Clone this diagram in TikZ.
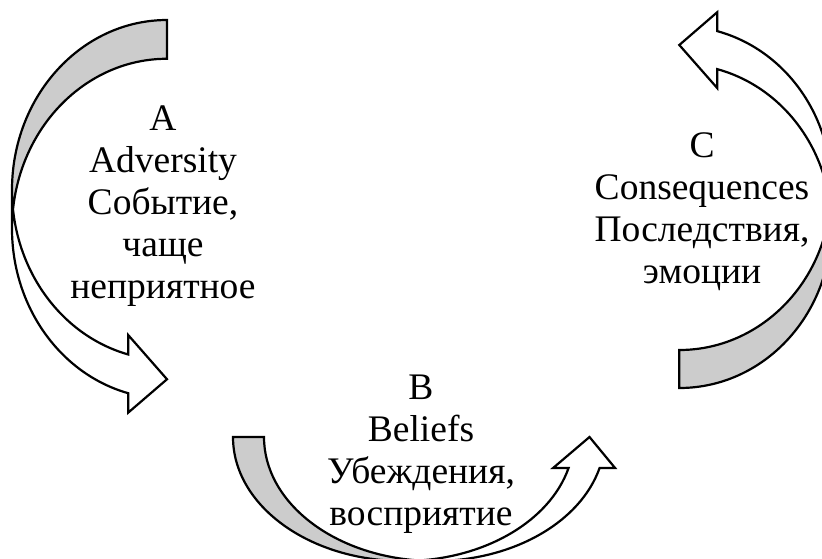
\documentclass[tikz,border=0pt]{standalone}
\usepackage{fontspec}
\setmainfont{Liberation Serif}
\definecolor{bandshade}{RGB}{204,204,204}
\tikzset{
  band line/.style={draw=black, line width=2.2pt, line join=miter},
  lbl/.style={font=\fontsize{37.5}{42}\selectfont, align=center, inner sep=0pt, anchor=base}
}
% curved arrow band in local coordinates (y pointing down): w h th aw ah
\newcommand\curvedband[5]{%
  \pgfmathsetmacro\cbW{#1}%
  \pgfmathsetmacro\cbH{#2}%
  \pgfmathsetmacro\cbTh{#3}%
  \pgfmathsetmacro\cbAw{#4}%
  \pgfmathsetmacro\cbAh{#5}%
  \pgfmathsetmacro\cbHR{\cbH/2-(\cbTh+\cbAw)/4}%
  \pgfmathsetmacro\cbYiii{\cbHR+\cbTh}%
  \pgfmathsetmacro\cbBeta{acos(\cbAh/\cbW)}%
  \pgfmathsetmacro\cbDy{\cbHR*sin(\cbBeta)}%
  \pgfmathsetmacro\cbYv{\cbHR+\cbDy}%
  \pgfmathsetmacro\cbYvii{\cbYiii+\cbDy}%
  \pgfmathsetmacro\cbDh{(\cbAw-\cbTh)/2}%
  \pgfmathsetmacro\cbYiv{\cbYv-\cbDh}%
  \pgfmathsetmacro\cbYviii{\cbYvii+\cbDh}%
  \pgfmathsetmacro\cbYvi{\cbH-\cbAw/2}%
  \pgfmathsetmacro\cbXi{\cbW-\cbAh}%
  \pgfmathsetmacro\cbDelta{asin(\cbTh/(2*\cbHR))}%
  \pgfmathsetmacro\cbEa{180-\cbBeta}%
  \pgfmathsetmacro\cbEb{180+\cbDelta}%
  \pgfmathsetmacro\cbEc{180-\cbDelta}%
  \fill[white] (0,\cbHR)
    arc[start angle=180,end angle=\cbEa,x radius=\cbW pt,y radius=\cbHR pt]
    -- (\cbXi,\cbYiv) -- (\cbW,\cbYvi) -- (\cbXi,\cbYviii) -- (\cbXi,\cbYvii)
    arc[start angle=\cbEa,end angle=180,x radius=\cbW pt,y radius=\cbHR pt] -- cycle;
  \fill[bandshade] (\cbW,\cbTh)
    arc[start angle=270,end angle=\cbEb,x radius=\cbW pt,y radius=\cbHR pt]
    arc[start angle=\cbEc,end angle=270,x radius=\cbW pt,y radius=\cbHR pt] -- cycle;
  \path[band line] (0,\cbHR)
    arc[start angle=180,end angle=\cbEa,x radius=\cbW pt,y radius=\cbHR pt]
    -- (\cbXi,\cbYiv) -- (\cbW,\cbYvi) -- (\cbXi,\cbYviii) -- (\cbXi,\cbYvii)
    arc[start angle=\cbEa,end angle=180,x radius=\cbW pt,y radius=\cbHR pt]
    -- (0,\cbHR)
    arc[start angle=180,end angle=270,x radius=\cbW pt,y radius=\cbHR pt]
    -- (\cbW,\cbTh)
    arc[start angle=270,end angle=\cbEb,x radius=\cbW pt,y radius=\cbHR pt];
}
\begin{document}
\begin{tikzpicture}[x=1pt,y=1pt]
  \useasboundingbox (0,0) rectangle (822,-558);
  \fill[white] (0,0) rectangle (822,-558);
  \begin{scope}
    \clip (0,0) rectangle (822,-558);
    % A: curved right arrow
    \begin{scope}[cm={1,0,0,-1,(12,-20)}]
      \curvedband{155}{398}{38.75}{77.5}{38.75}
    \end{scope}
    % B: curved up arrow
    \begin{scope}[cm={0,1,1,0,(233,-561)}]
      \curvedband{124}{387.5}{31}{62}{31}
    \end{scope}
    % C: curved left arrow (pointing up-left)
    \begin{scope}[cm={-1,0,0,1,(831.3,-388)}]
      \curvedband{152}{381}{38}{76}{38}
    \end{scope}
  \end{scope}
  \node[lbl] (txtA) at (163,-298.3) {A\\Adversity\\Событие,\\чаще\\неприятное};
  \node[lbl] (txtB) at (421,-525) {B\\Beliefs\\Убеждения,\\восприятие};
  \node[lbl] (txtC) at (702,-283.3) {C\\Consequences\\Последствия,\\эмоции};
\end{tikzpicture}
\end{document}
